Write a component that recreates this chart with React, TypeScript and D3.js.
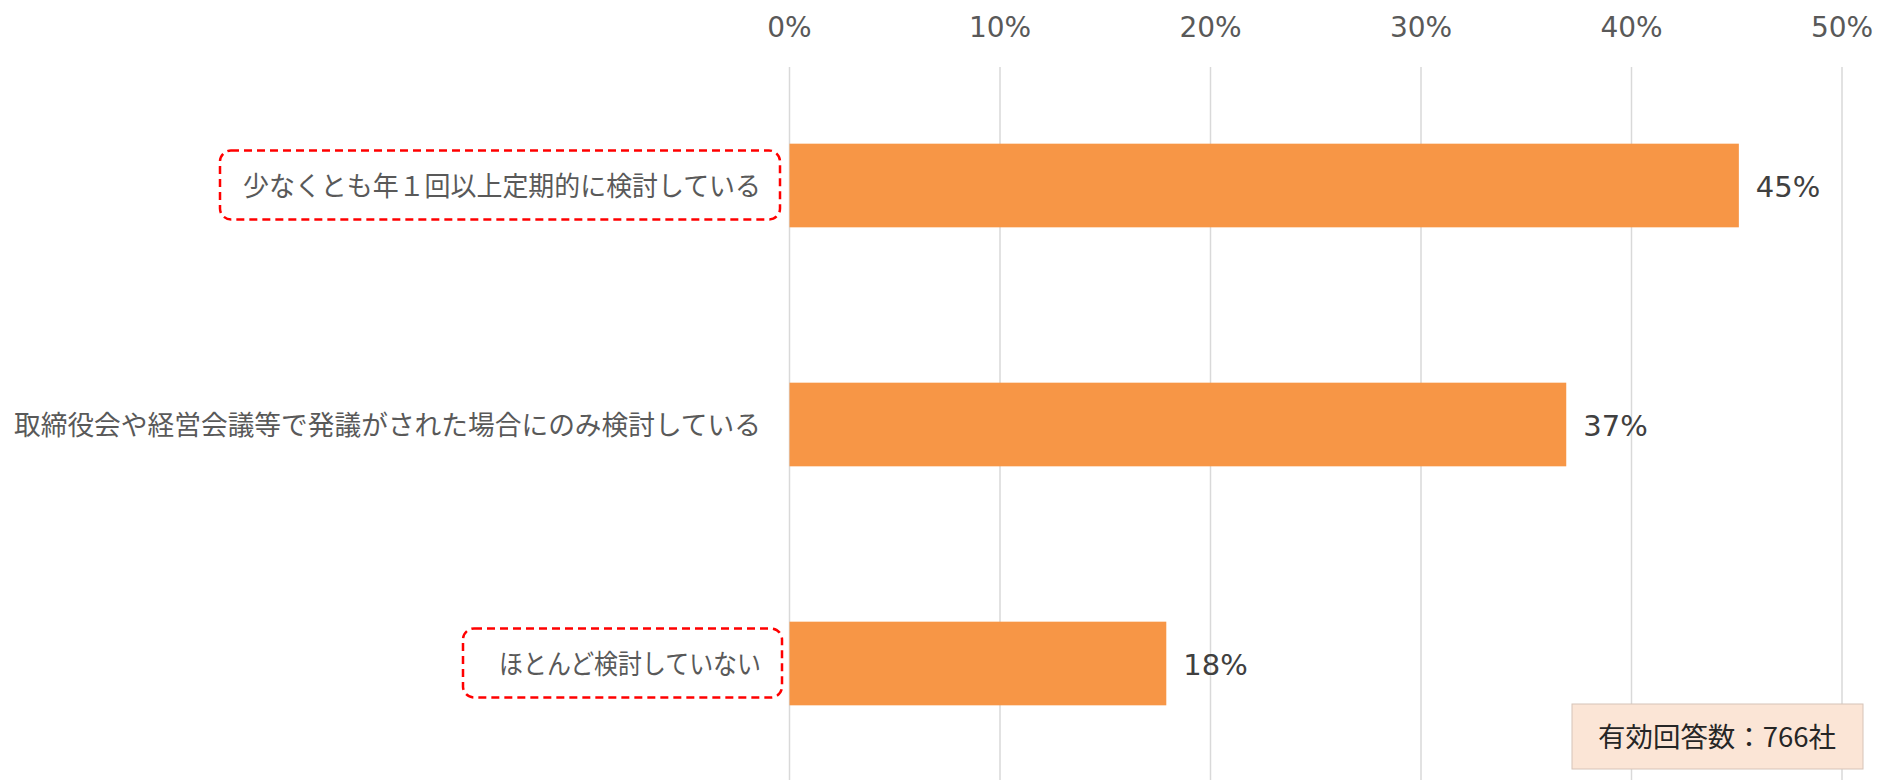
import React from "react";
import * as d3 from "d3";

const categories = [
  "少なくとも年１回以上定期的に検討している",
  "取締役会や経営会議等で発議がされた場合にのみ検討している",
  "ほとんど検討していない",
];
const values = [45.1, 36.9, 17.9];
const highlighted = [true, false, true];
const tickValues = [0, 10, 20, 30, 40, 50];
const noteText = "有効回答数：766社";

const W = 1879;
const H = 780;
const JP = "'Noto Sans CJK JP', sans-serif";
const NUM = "'DejaVu Sans', Verdana, sans-serif";

export default function App() {
  const x = d3.scaleLinear().domain([0, 50]).range([789.5, 1842]);
  const y = d3
    .scaleBand<string>()
    .domain(categories)
    .range([66, 783])
    .paddingInner(0.65)
    .paddingOuter(0.325);
  const bw = y.bandwidth();

  return (
    <svg
      width={W}
      height={H}
      style={{ position: "absolute", left: 0, top: 0, background: "#fff" }}
    >
      {/* gridlines */}
      {tickValues.map((t) => (
        <line
          key={"g" + t}
          x1={x(t)}
          x2={x(t)}
          y1={67}
          y2={H}
          stroke="#D9D9D9"
          strokeWidth={1.5}
        />
      ))}
      {/* tick labels */}
      {tickValues.map((t) => (
        <text
          key={"t" + t}
          x={x(t)}
          y={37}
          textAnchor="middle"
          fontFamily={NUM}
          fontSize={28}
          fill="#595959"
        >
          {t + "%"}
        </text>
      ))}
      {/* bars */}
      {categories.map((c, i) => (
        <rect
          key={"b" + i}
          x={x(0)}
          y={y(c)}
          width={x(values[i]) - x(0)}
          height={bw}
          fill="#F79646"
        />
      ))}
      {/* data labels */}
      {categories.map((c, i) => (
        <text
          key={"d" + i}
          x={x(values[i]) + 17}
          y={(y(c) as number) + bw / 2 + 11}
          fontFamily={NUM}
          fontSize={29}
          fill="#404040"
        >
          {Math.round(values[i]) + "%"}
        </text>
      ))}
      {/* highlight boxes */}
      {categories.map((c, i) =>
        highlighted[i] ? (
          <rect
            key={"h" + i}
            x={i === 0 ? 220 : 463}
            y={(y(c) as number) + bw / 2 - 35}
            width={i === 0 ? 560 : 319}
            height={69}
            rx={11}
            ry={11}
            fill="none"
            stroke="#FF0000"
            strokeWidth={2.5}
            strokeDasharray="8 5"
          />
        ) : null
      )}
      {/* category labels */}
      {categories.map((c, i) => (
        <text
          key={"c" + i}
          x={761}
          y={(y(c) as number) + bw / 2 + 10}
          textAnchor="end"
          fontFamily={JP}
          fontSize={27}
          fill="#595959"
          textLength={i === 1 ? 747 : i === 0 ? 518 : 262}
          lengthAdjust="spacingAndGlyphs"
        >
          {c}
        </text>
      ))}
      {/* note box */}
      <rect
        x={1572}
        y={704}
        width={291}
        height={65}
        fill="#FBE5D6"
        stroke="#D6C3B8"
        strokeWidth={1}
      />
      <text
        x={1717}
        y={747}
        textAnchor="middle"
        fontFamily={JP}
        fontSize={27}
        fill="#262626"
        textLength={238}
        lengthAdjust="spacingAndGlyphs"
      >
        {noteText}
      </text>
    </svg>
  );
}
